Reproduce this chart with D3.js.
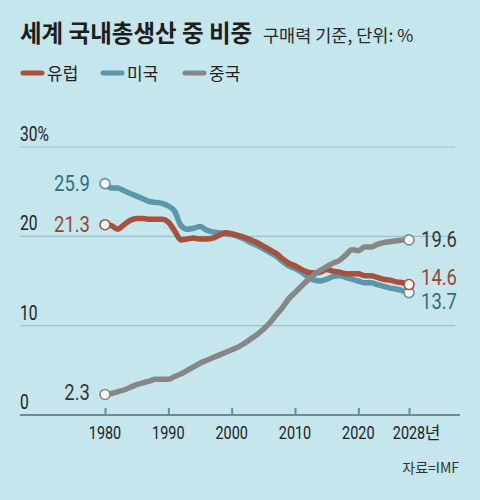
<!DOCTYPE html>
<html><head><meta charset="utf-8">
<script src="https://cdn.jsdelivr.net/npm/d3@7"></script>
<style>body{margin:0;background:#c5e6ec}svg{display:block}</style>
</head><body>
<svg id="c" width="480" height="500"></svg>
<script>
const years=[1980,1981,1982,1983,1984,1985,1986,1987,1988,1989,1990,1991,1992,1993,1994,1995,1996,1997,1998,1999,2000,2001,2002,2003,2004,2005,2006,2007,2008,2009,2010,2011,2012,2013,2014,2015,2016,2017,2018,2019,2020,2021,2022,2023,2024,2025,2026,2027,2028];
const europe=[21.3,21.2,20.8,21.3,21.8,22.0,22.0,21.9,21.9,21.9,21.6,20.6,19.6,19.7,19.8,19.7,19.7,19.8,20.1,20.4,20.3,20.1,19.9,19.6,19.3,18.9,18.5,18.1,17.5,17.0,16.7,16.3,16.0,15.9,16.0,16.3,16.1,16.0,15.8,15.8,15.8,15.6,15.6,15.4,15.2,15.1,14.9,14.8,14.6];
const usa=[25.9,25.4,25.4,25.1,24.8,24.5,24.2,23.9,23.8,23.7,23.4,22.8,21.2,20.8,20.9,21.1,20.7,20.5,20.4,20.3,20.2,20.0,19.7,19.3,19.0,18.6,18.2,17.8,17.2,16.7,16.4,16.0,15.5,15.1,15.0,15.2,15.5,15.6,15.4,15.2,15.0,14.8,14.8,14.6,14.4,14.2,14.1,13.9,13.7];
const china=[2.3,2.4,2.6,2.8,3.1,3.4,3.6,3.8,4.0,4.0,4.0,4.3,4.6,5.0,5.4,5.8,6.1,6.4,6.7,7.0,7.3,7.6,8.0,8.5,9.0,9.6,10.3,11.2,12.0,13.0,13.7,14.4,15.1,15.7,16.2,16.6,17.0,17.3,17.9,18.5,18.4,18.8,18.8,19.1,19.3,19.4,19.5,19.6,19.6];
const seriesNames=["유럽","미국","중국"];
const xTicks=[1980,1990,2000,2010,2020,2028];
const xTickLabels=["1980","1990","2000","2010","2020","2028년"];
const yTicks=[0,10,20,30];
const yTickLabels=["0","10","20","30%"];
const titleText="세계 국내총생산 중 비중";
const subtitleText="구매력 기준, 단위: %";
const sourceText="자료=IMF";

const colors={eu:"#a9503a",us:"#5b96aa",cn:"#878787"};
const labelColors={eu:"#964632",us:"#326e7d",cn:"#383838"};
const numFont="Roboto, 'Liberation Sans', sans-serif";
const krFont="'Noto Sans CJK KR', 'Noto Sans', sans-serif";

const svg=d3.select("#c");
svg.append("rect").attr("width",480).attr("height",500).attr("fill","#c5e6ec");

const x=d3.scaleLinear().domain([1980,2028]).range([105,409]);
const y=d3.scaleLinear().domain([0,30]).range([415,147]);

// condensed number text via horizontal scale transform
function numText(parent,px,py,str,size,ratio,anchor,fill){
  const t=parent.append("text").attr("x",0).attr("y",0)
    .attr("transform",`translate(${px},${py}) scale(${ratio},1)`)
    .attr("text-anchor",anchor).attr("font-family",numFont).attr("font-size",size)
    .attr("fill",fill).text(str);
  return t.node().getComputedTextLength()*ratio;
}

// title
svg.append("text").attr("x",20).attr("y",42).attr("font-family",krFont)
  .attr("font-weight",700).attr("font-size",23.5).attr("fill","#1e1e1e").text(titleText);
svg.append("text").attr("x",263).attr("y",42).attr("font-family",krFont)
  .attr("font-size",17.5).attr("fill","#2a2a2a").text(subtitleText);

// legend
const legendKeys=["eu","us","cn"];
const legendX=[23,103,185];
legendKeys.forEach((k,i)=>{
  svg.append("line").attr("x1",legendX[i]).attr("x2",legendX[i]+19).attr("y1",73).attr("y2",73)
    .attr("stroke",colors[k]).attr("stroke-width",5).attr("stroke-linecap","round");
  svg.append("text").attr("x",legendX[i]+24).attr("y",80).attr("font-family",krFont)
    .attr("font-size",17).attr("fill","#222").text(seriesNames[i]);
});

// grid
svg.append("g").selectAll("line").data(yTicks.filter(d=>d>0)).join("line")
  .attr("x1",20).attr("x2",455).attr("y1",d=>y(d)).attr("y2",d=>y(d))
  .attr("stroke","#9dc3ca").attr("stroke-width",1.2);
const ylg=svg.append("g");
yTicks.forEach((d,i)=>numText(ylg,20,y(d)-6,yTickLabels[i],20,0.78,"start","#222"));

// axis
const xAxis=d3.axisBottom(x).tickValues(xTicks).tickSize(0).tickFormat("");
const ag=svg.append("g").attr("transform",`translate(0,${y(0)})`).call(xAxis);
ag.select(".domain").remove();
ag.selectAll(".tick line").remove();
ag.selectAll(".tick").append("line").attr("y1",0).attr("y2",-7)
  .attr("stroke","#6f8b91").attr("stroke-width",2);
svg.append("line").attr("x1",20).attr("x2",460).attr("y1",y(0)).attr("y2",y(0))
  .attr("stroke","#6f8b91").attr("stroke-width",2);

const xg=svg.append("g");
xTicks.forEach((d,i)=>{
  const lab=xTickLabels[i];
  const num=lab.replace("년","");
  const w=numText(xg,x(d),439,num,19,0.76,"middle","#222");
  if(lab.endsWith("년")){
    xg.append("text").attr("x",x(d)+w/2-0.5).attr("y",439).attr("font-family",krFont)
      .attr("font-size",17).attr("fill","#222").text("년");
  }
});

// lines
const line=d3.line().x((d,i)=>x(years[i])).y(d=>y(d)).curve(d3.curveMonotoneX);
const series=[{k:"us",v:usa},{k:"eu",v:europe},{k:"cn",v:china}];
series.forEach(s=>{
  svg.append("path").attr("d",line(s.v)).attr("fill","none").attr("stroke",colors[s.k])
    .attr("stroke-width",5.5).attr("stroke-linejoin","round").attr("stroke-linecap","round");
});
series.forEach(s=>{
  [0,s.v.length-1].forEach(i=>{
    svg.append("circle").attr("cx",x(years[i])).attr("cy",y(s.v[i])).attr("r",5)
      .attr("fill","#fff").attr("stroke",colors[s.k]).attr("stroke-width",1.6);
  });
});

// value labels
const last=years.length-1;
const vlabels=[
  {k:"us",i:0,anchor:"end",dx:-15,dy:7.5},
  {k:"eu",i:0,anchor:"end",dx:-15,dy:7.5},
  {k:"cn",i:0,anchor:"end",dx:-15,dy:6},
  {k:"cn",i:last,anchor:"start",dx:12,dy:7.5},
  {k:"eu",i:last,anchor:"start",dx:12,dy:0},
  {k:"us",i:last,anchor:"start",dx:12,dy:16.5}
];
const dataOf={us:usa,eu:europe,cn:china};
const vg=svg.append("g");
vlabels.forEach(d=>{
  const v=dataOf[d.k][d.i];
  numText(vg,x(years[d.i])+d.dx,y(v)+d.dy,v.toFixed(1),22,0.84,d.anchor,labelColors[d.k]);
});

// source
svg.append("text").attr("x",459).attr("y",473).attr("text-anchor","end").attr("font-family",krFont)
  .attr("font-size",14).attr("fill","#333").text(sourceText);
</script>
</body></html>
